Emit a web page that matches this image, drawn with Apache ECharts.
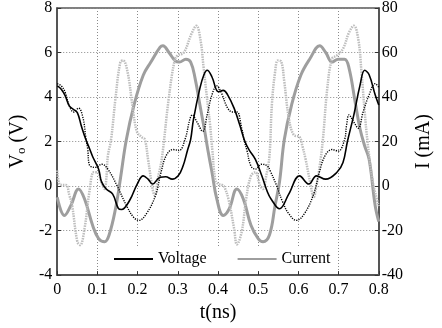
<!DOCTYPE html>
<html>
<head>
<meta charset="utf-8">
<script src="https://cdn.jsdelivr.net/npm/echarts@6/dist/echarts.min.js"></script>
<style>
  html, body { margin: 0; padding: 0; background: #fff; }
  #chart { width: 442px; height: 328px; }
</style>
</head>
<body>
<div id="chart"></div>
<script>
// --- Data (t in ns) ---
// measured output voltage (V)
const voltage = [
  [0, 4.5], [0.01, 4.35], [0.02, 4.05], [0.03, 3.6], [0.04, 3.45], [0.05, 3.3], [0.06, 2.7],
  [0.071, 2.1], [0.08, 1.7], [0.088, 1.33], [0.103, 0.76], [0.11, 0.2], [0.122, -0.13],
  [0.138, -0.36], [0.152, -1.0], [0.16, -1.05], [0.18, -0.65], [0.199, 0.09], [0.214, 0.46],
  [0.226, 0.31], [0.237, 0.09], [0.256, 0.4], [0.27, 0.42], [0.286, 0.31], [0.301, 0.46],
  [0.313, 0.9], [0.324, 1.6], [0.332, 2.1], [0.339, 3.0], [0.355, 4.4], [0.365, 5.0],
  [0.373, 5.2], [0.385, 4.9], [0.401, 4.24], [0.413, 4.3], [0.424, 4.1], [0.44, 3.5],
  [0.454, 2.75], [0.466, 2.05], [0.477, 1.64], [0.493, 1.2], [0.509, 0.46], [0.523, -0.27],
  [0.532, -0.58], [0.553, -1.02], [0.576, -0.36], [0.603, 0.46], [0.626, 0.09], [0.645, 0.46],
  [0.668, 0.31], [0.696, 0.62], [0.711, 1.06], [0.722, 2.0], [0.738, 3.2], [0.753, 4.5],
  [0.765, 5.2], [0.776, 5.0], [0.791, 4.1], [0.8, 3.64]
]
// simulated output voltage (V)
const voltageSim = [
  [0, 4.6], [0.01, 4.5], [0.02, 4.2], [0.03, 3.6], [0.041, 3.33], [0.053, 3.5], [0.064, 3.07],
  [0.071, 2.2], [0.076, 1.64], [0.08, 0.95], [0.095, 0.84], [0.111, 0.98], [0.126, 0.76],
  [0.149, 0.01], [0.172, -0.87], [0.19, -1.4], [0.203, -1.54], [0.222, -1.24], [0.245, -0.4],
  [0.258, 0.6], [0.272, 1.4], [0.288, 1.64], [0.303, 1.6], [0.318, 2.1], [0.33, 3.0],
  [0.336, 3.2], [0.347, 2.9], [0.362, 2.46], [0.373, 3.2], [0.385, 4.1], [0.397, 4.5],
  [0.408, 4.2], [0.424, 3.5], [0.436, 3.33], [0.447, 3.33], [0.459, 2.6], [0.466, 2.0],
  [0.472, 1.6], [0.482, 0.9], [0.493, 0.76], [0.509, 0.98], [0.523, 0.9], [0.53, 0.68],
  [0.546, 0.01], [0.561, -0.72], [0.576, -1.24], [0.595, -1.54], [0.615, -1.24], [0.638, -0.36],
  [0.653, 0.68], [0.668, 1.42], [0.684, 1.64], [0.699, 1.57], [0.715, 2.09], [0.72, 2.75],
  [0.726, 3.2], [0.737, 2.9], [0.749, 2.6], [0.761, 3.33], [0.776, 4.1], [0.791, 4.6], [0.8, 4.44]
]
// measured current (mA)
const current = [
  [0, -5], [0.018, -13.2], [0.034, -8.7], [0.053, -1.3], [0.068, -5.8], [0.088, -17.6],
  [0.103, -23.6], [0.118, -25], [0.129, -22], [0.145, -10.2], [0.157, 3.1], [0.172, 20.9],
  [0.191, 36.4], [0.214, 49.8], [0.233, 55.7], [0.256, 62.4], [0.263, 63], [0.278, 60],
  [0.293, 56.4], [0.304, 55.7], [0.32, 57], [0.332, 55.7], [0.343, 48.4], [0.355, 36.4],
  [0.367, 24.6], [0.375, 16], [0.385, 6.2], [0.397, -5.8], [0.413, -13.2], [0.428, -10.2],
  [0.447, -1.3], [0.463, -5.8], [0.482, -17.6], [0.5, -23.6], [0.512, -25], [0.528, -22],
  [0.542, -8.7], [0.553, 1.8], [0.565, 20.9], [0.583, 36.4], [0.606, 49.8], [0.629, 57.3],
  [0.653, 63], [0.668, 60], [0.684, 55.7], [0.699, 57], [0.715, 57], [0.726, 53], [0.741, 38],
  [0.753, 26], [0.765, 18], [0.776, 12], [0.791, -8.7], [0.8, -16]
]
// simulated current (mA)
const currentSim = [
  [0, 7], [0.005, 1], [0.012, 0.5], [0.022, 0.5], [0.03, -4], [0.037, -8.7], [0.05, -25],
  [0.057, -26.5], [0.068, -19], [0.08, -2.7], [0.091, 6.2], [0.1, 6.2], [0.11, 1.8],
  [0.118, -1.3], [0.122, 3.1], [0.126, 13.5], [0.134, 20.9], [0.145, 39.5], [0.157, 55.7],
  [0.164, 56.4], [0.175, 51.2], [0.187, 36.4], [0.198, 24.6], [0.21, 22], [0.218, 20.9],
  [0.226, 12], [0.238, -2], [0.243, -4.3], [0.25, 3.1], [0.26, 12], [0.277, 38.7],
  [0.292, 56.4], [0.3, 58.7], [0.315, 60], [0.334, 68.4], [0.346, 72], [0.357, 65],
  [0.364, 53.5], [0.376, 34.2], [0.38, 28], [0.386, 16], [0.393, 3], [0.4, 1], [0.41, 0.5],
  [0.416, -0.5], [0.426, -5.8], [0.44, -19], [0.447, -26.2], [0.459, -20.5], [0.47, -5.8],
  [0.482, 4.6], [0.493, 6.2], [0.505, 0.1], [0.512, -1.3], [0.52, 4.6], [0.528, 13.5],
  [0.534, 36.4], [0.542, 51.2], [0.549, 56.4], [0.557, 56], [0.565, 46.8], [0.576, 30.7],
  [0.588, 23.1], [0.603, 22], [0.61, 18], [0.618, 12], [0.63, 1], [0.638, -5], [0.645, 0.1],
  [0.653, 9], [0.661, 20.9], [0.672, 44], [0.684, 57.3], [0.696, 58.7], [0.711, 61.7],
  [0.726, 69], [0.738, 72], [0.749, 66], [0.757, 51.2], [0.765, 33.3], [0.772, 20],
  [0.784, 3.1], [0.795, -5.8], [0.8, -9]
]

const tTicks = [0, 0.1, 0.2, 0.3, 0.4, 0.5, 0.6, 0.7, 0.8]
const vTicks = [-4, -2, 0, 2, 4, 6, 8]
const iTicks = [-40, -20, 0, 20, 40, 60, 80]

const serif = 'Liberation Serif'

const chart = echarts.init(document.getElementById('chart'))

const gridLine = { show: true, lineStyle: { color: '#8a8a8a', width: 1, type: [1, 2] } }
const axisFrame = { show: true, onZero: false, lineStyle: { color: '#555', width: 2 } }

const option = {
  backgroundColor: '#fff',
  animation: false,
  textStyle: { fontFamily: serif },
  grid: {
    left: 50, right: 45, top: 7, bottom: 51,
    show: true, borderColor: '#000', borderWidth: 1,
  },
  legend: {
    data: ['Voltage', 'Current'],
    left: 109,
    top: 247,
    itemWidth: 39,
    itemHeight: 14,
    itemGap: 30,
    padding: [4, 4],
    backgroundColor: '#fff',
    itemStyle: { opacity: 0 },
    textStyle: { fontFamily: serif, fontSize: 16, color: '#000' },
  },
  xAxis: {
    type: 'value',
    min: tTicks[0],
    max: tTicks[tTicks.length - 1],
    interval: 0.1,
    name: 't(ns)',
    nameLocation: 'middle',
    nameGap: 27,
    nameTextStyle: { fontFamily: serif, fontSize: 20, color: '#000' },
    axisLine: axisFrame,
    axisTick: { show: true, inside: true, length: 4, lineStyle: { color: '#333' } },
    axisLabel: {
      fontFamily: serif, fontSize: 16, color: '#000', margin: 7,
      formatter: (v) => String(Math.round(v * 10) / 10),
    },
    splitLine: gridLine,
  },
  yAxis: [
    {
      type: 'value',
      min: vTicks[0],
      max: vTicks[vTicks.length - 1],
      interval: 2,
      name: '{v|V}{s|o}{v| (V)}',
      nameLocation: 'middle',
      nameRotate: 90,
      nameGap: 20,
      nameTextStyle: {
        fontFamily: serif, fontSize: 20, color: '#000',
        rich: {
          v: { fontFamily: serif, fontSize: 20, color: '#000', lineHeight: 20 },
          s: { fontFamily: serif, fontSize: 13, color: '#000', lineHeight: 8, verticalAlign: 'bottom' },
        },
      },
      axisLine: axisFrame,
      axisTick: { show: true, inside: true, length: 4, lineStyle: { color: '#333' } },
      axisLabel: { fontFamily: serif, fontSize: 16, color: '#000', margin: 5 },
      splitLine: gridLine,
    },
    {
      type: 'value',
      min: iTicks[0],
      max: iTicks[iTicks.length - 1],
      interval: 20,
      name: 'I (mA)',
      nameLocation: 'middle',
      nameRotate: 90,
      nameGap: 26,
      nameTextStyle: { fontFamily: serif, fontSize: 20, color: '#000' },
      axisLine: axisFrame,
      axisTick: { show: true, inside: true, length: 4, lineStyle: { color: '#333' } },
      axisLabel: { fontFamily: serif, fontSize: 16, color: '#000', margin: 3 },
      splitLine: { show: false },
    },
  ],
  series: [
    {
      name: 'Current',
      type: 'line',
      yAxisIndex: 1,
      data: current,
      smooth: 0.4,
      symbol: 'none',
      lineStyle: { color: '#9e9e9e', width: 3 },
      itemStyle: { color: '#9e9e9e' },
      z: 2,
    },
    {
      name: 'Current sim',
      type: 'line',
      yAxisIndex: 1,
      data: currentSim,
      smooth: 0.4,
      symbol: 'none',
      lineStyle: { color: '#bdbdbd', width: 2.5, type: [1.5, 1] },
      z: 3,
    },
    {
      name: 'Voltage sim',
      type: 'line',
      data: voltageSim,
      smooth: 0.4,
      symbol: 'none',
      lineStyle: { color: '#000', width: 1.4, type: [1.2, 1.2] },
      z: 4,
    },
    {
      name: 'Voltage',
      type: 'line',
      data: voltage,
      smooth: 0.4,
      symbol: 'none',
      lineStyle: { color: '#000', width: 1.6 },
      itemStyle: { color: '#000' },
      z: 5,
    },
  ],
}

chart.setOption(option)
window.addEventListener('resize', () => chart.resize())
</script>
</body>
</html>
